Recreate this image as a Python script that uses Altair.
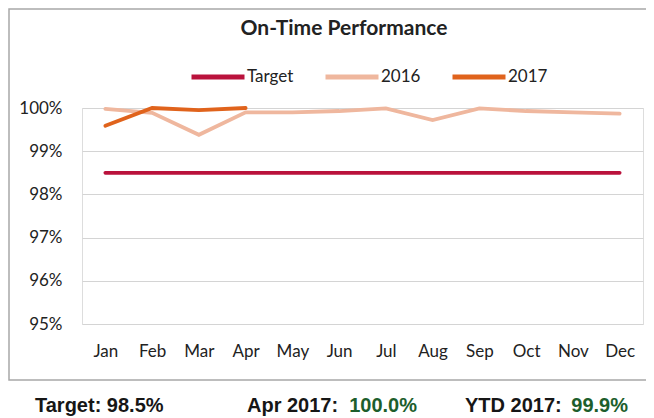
import altair as alt
import pandas as pd

months = ["Jan", "Feb", "Mar", "Apr", "May", "Jun", "Jul", "Aug", "Sep", "Oct", "Nov", "Dec"]
target = [98.5] * 12
y2016 = [99.98, 99.89, 99.38, 99.9, 99.9, 99.93, 99.99, 99.72, 99.99, 99.93, 99.9, 99.87]
y2017 = [99.59, 100.0, 99.95, 100.0]
series_names = ["Target", "2016", "2017"]
series_colors = ["#BA123C", "#EFB79E", "#E0631C"]

title_text = "On-Time Performance"
footer_black = ["Target: 98.5%", "Apr 2017:", "YTD 2017:"]
footer_green = ["100.0%", "99.9%"]

rows = []
for m, v in zip(months, target):
    rows.append({"month": m, "series": "Target", "value": v})
for m, v in zip(months, y2016):
    rows.append({"month": m, "series": "2016", "value": v})
for m, v in zip(months[:len(y2017)], y2017):
    rows.append({"month": m, "series": "2017", "value": v})
df = pd.DataFrame(rows)
df["order"] = df["series"].map({s: i for i, s in enumerate(series_names)})

FONT = "Lato"
one = pd.DataFrame({"a": [0]})

lines = alt.Chart(df).mark_line(strokeWidth=3.8, strokeCap="round", clip=False).encode(
    x=alt.X("month:N", sort=months, title=None,
            scale=alt.Scale(paddingInner=0, paddingOuter=0),
            axis=alt.Axis(labelAngle=0, ticks=False, domain=False, grid=False,
                          labelFontSize=17, labelColor="#222", labelPadding=19, labelFont=FONT)),
    y=alt.Y("value:Q", title=None,
            scale=alt.Scale(domain=[95, 100], nice=False, zero=False),
            axis=alt.Axis(values=[95, 96, 97, 98, 99, 100], labelExpr="datum.value + '%'",
                          ticks=False, domain=False, gridColor="#d4d4d4", gridWidth=1,
                          labelFontSize=17, labelColor="#222", labelPadding=20, labelFont=FONT)),
    color=alt.Color("series:N", scale=alt.Scale(domain=series_names, range=series_colors),
                    legend=alt.Legend(title=None, orient="none", legendX=107, legendY=-60,
                                      direction="horizontal", symbolType="stroke",
                                      symbolSize=2809, symbolStrokeWidth=5,
                                      labelFontSize=17, labelColor="#222", labelFont=FONT,
                                      columnPadding=21, labelOffset=0)),
    order="order:Q",
)

title = alt.Chart(one).mark_text(text=title_text, font=FONT, fontSize=21, fontWeight="bold",
                                 color="#222", align="center", baseline="alphabetic").encode(
    x=alt.value(262), y=alt.value(-73))

border = alt.Chart(one).mark_rect(fill=None, stroke="#a8a8a8", strokeWidth=1.5).encode(
    x=alt.value(-73), x2=alt.value(700), y=alt.value(-99), y2=alt.value(272))

fx_black = [35 - 82, 247 - 82, 465 - 82]
fx_green = [417 - 82, 628 - 82]
foot_font = "Liberation Sans"
FY = 412 - 108
foot_layers = []
for t, xv in zip(footer_black, fx_black):
    foot_layers.append(alt.Chart(one).mark_text(text=t, font=foot_font, fontSize=20, fontWeight="bold",
                                                color="#161616", align="left", baseline="alphabetic").encode(
        x=alt.value(xv), y=alt.value(FY)))
for t, xv in zip(footer_green, fx_green):
    foot_layers.append(alt.Chart(one).mark_text(text=t, font=foot_font, fontSize=20, fontWeight="bold",
                                                color="#1D5E2C", align="right", baseline="alphabetic").encode(
        x=alt.value(xv), y=alt.value(FY)))

chart = alt.layer(border, lines, title, *foot_layers).properties(
    width=561, height=216,
    autosize=alt.AutoSizeParams(type="none"),
    padding={"left": 74, "top": 100, "right": 3, "bottom": 93},
).configure_view(stroke="#bdbdbd", strokeWidth=1).configure(background="white")

chart.save("out.html", embed_options={"renderer": "svg", "actions": False})
